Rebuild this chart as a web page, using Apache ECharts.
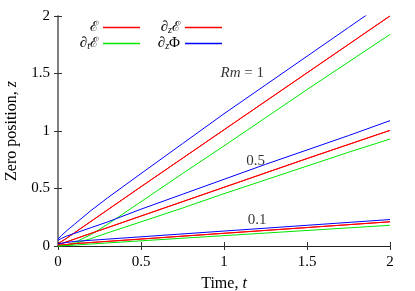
<!DOCTYPE html>
<html>
<head>
<meta charset="utf-8">
<script src="https://cdn.jsdelivr.net/npm/echarts@6/dist/echarts.min.js"></script>
<style>html,body{margin:0;padding:0;background:#fff}#c{width:415px;height:291px}</style>
</head>
<body>
<div id="c"></div>
<script>
// ---- data ----
var xTicks = [0, 0.5, 1, 1.5, 2];
var yTicks = [0, 0.5, 1, 1.5, 2];

// Rm = 1
var tBlue1 = [0, 0.02, 0.05, 0.1, 0.2, 0.3, 0.5, 0.75, 1, 1.25, 1.5, 1.75, 2];
var zBlue1 = [0.06, 0.09, 0.13, 0.19, 0.31, 0.42, 0.63, 0.89, 1.15, 1.4, 1.65, 1.9, 2.15];
var tRed1 = [0, 0.05, 0.1, 0.25, 0.5, 1, 1.5, 2];
var zRed1 = [0.02, 0.065, 0.115, 0.265, 0.515, 1.01, 1.505, 2.0];
var zRedZ1 = [0.02, 0.066, 0.116, 0.266, 0.516, 1.011, 1.506, 2.001];
var tGreen1 = [0, 0.05, 0.1, 0.2, 0.3, 0.5, 0.75, 1, 1.25, 1.5, 1.75, 2];
var zGreen1 = [0, 0.005, 0.03, 0.1, 0.19, 0.385, 0.63, 0.87, 1.115, 1.36, 1.6, 1.84];

// Rm = 0.5
var tBlue05 = [0, 0.02, 0.05, 0.1, 0.2, 0.3, 0.5, 0.75, 1, 1.25, 1.5, 1.75, 2];
var zBlue05 = [0.05, 0.065, 0.085, 0.11, 0.16, 0.21, 0.32, 0.45, 0.58, 0.71, 0.835, 0.96, 1.09];
var tRed05 = [0, 0.1, 0.25, 0.5, 1, 1.5, 2];
var zRed05 = [0.01, 0.06, 0.135, 0.26, 0.51, 0.76, 1.005];
var zRedZ05 = [0.01, 0.061, 0.136, 0.261, 0.511, 0.761, 1.006];
var tGreen05 = [0, 0.05, 0.1, 0.2, 0.3, 0.5, 0.75, 1, 1.25, 1.5, 1.75, 2];
var zGreen05 = [0, 0.005, 0.02, 0.065, 0.115, 0.21, 0.33, 0.455, 0.575, 0.695, 0.815, 0.93];

// Rm = 0.1
var tBlue01 = [0, 0.05, 0.1, 0.25, 0.5, 1, 1.5, 2];
var zBlue01 = [0.02, 0.03, 0.04, 0.055, 0.08, 0.13, 0.18, 0.23];
var tRed01 = [0, 0.1, 0.25, 0.5, 1, 1.5, 2];
var zRed01 = [0.005, 0.02, 0.035, 0.06, 0.11, 0.16, 0.21];
var zRedZ01 = [0.005, 0.021, 0.036, 0.061, 0.111, 0.161, 0.211];
var tGreen01 = [0, 0.1, 0.25, 0.5, 1, 1.5, 2];
var zGreen01 = [0, 0.008, 0.022, 0.045, 0.09, 0.135, 0.18];

// annotation labels
var annoText = ['{i|Rm} = 1', '0.5', '0.1'];
var annoT = [1.11, 1.19, 1.2];
var annoZ = [1.5, 0.74, 0.225];

// legend order (row by row)
var legendOrder = ['Eps', 'dzEps', 'dtEps', 'dzPhi'];

// ---- build ----
function pairs(t, z) { return t.map(function (v, i) { return [v, z[i]]; }); }
var RED = '#ff0000', GREEN = '#00e600', BLUE = '#0000ff';
var seriesColor = { Eps: RED, dzEps: RED, dtEps: GREEN, dzPhi: BLUE };
function line(name, t, z) {
  var color = seriesColor[name];
  return { type: 'line', name: name, data: pairs(t, z), symbol: 'none', clip: true,
    color: color, lineStyle: { color: color, width: 1 }, itemStyle: { color: color }, animation: false };
}
var series = [
  line('Eps', tRed1, zRed1), line('dzEps', tRed1, zRedZ1),
  line('dtEps', tGreen1, zGreen1), line('dzPhi', tBlue1, zBlue1),
  line('Eps', tRed05, zRed05), line('dzEps', tRed05, zRedZ05),
  line('dtEps', tGreen05, zGreen05), line('dzPhi', tBlue05, zBlue05),
  line('Eps', tRed01, zRed01), line('dzEps', tRed01, zRedZ01),
  line('dtEps', tGreen01, zGreen01), line('dzPhi', tBlue01, zBlue01)
];
var FONT = 'Liberation Serif';
series.push({
  type: 'scatter', symbolSize: 0, silent: true, animation: false,
  data: annoT.map(function (t, i) { return { value: [t, annoZ[i]], label: { formatter: annoText[i] } }; }),
  label: { show: true, position: 'inside', color: '#000', fontFamily: FONT, fontSize: 15,
    rich: { i: { fontStyle: 'italic', fontFamily: FONT, fontSize: 15 } } }
});

var legendNames = { Eps: '{e|ℰ}', dtEps: '{m|∂}{s|t}{e|ℰ}', dzEps: '{m|∂}{s|z}{e|ℰ}', dzPhi: '{m|∂}{s|z}{m|Φ}' };

var chart = echarts.init(document.getElementById('c'), null, { renderer: 'canvas' });
chart.setOption({
  animation: false,
  backgroundColor: '#fff',
  grid: { left: 58, right: 25, top: 16, bottom: 45, containLabel: false, outerBoundsMode: 'none' },
  legend: {
    left: 59, top: 20, width: 170, orient: 'horizontal', align: 'right', itemGap: 1, padding: 0,
    itemWidth: 37, itemHeight: 1.3, selectedMode: false,
    data: legendOrder.map(function (n) {
      return { name: n, icon: 'rect', itemStyle: { color: seriesColor[n], borderWidth: 0, opacity: 1 } };
    }),
    formatter: function (n) { return legendNames[n]; },
    textStyle: {
      fontFamily: FONT, fontSize: 15, color: '#000', width: 39, align: 'right', lineHeight: 15,
      rich: {
        m: { fontFamily: FONT, fontSize: 15, color: '#000', lineHeight: 15 },
        e: { fontFamily: 'DejaVu Serif', fontSize: 14, color: '#000', lineHeight: 15 },
        s: { fontFamily: FONT, fontSize: 10, color: '#000', fontStyle: 'italic', lineHeight: 10, verticalAlign: 'bottom', padding: [5, 0, 0, 0] }
      }
    }
  },
  xAxis: [{
    type: 'value', min: 0, max: 2, interval: 0.5,
    name: '{n|Time, }{i|t}', nameLocation: 'middle', nameGap: 30,
    nameTextStyle: { rich: { n: { fontFamily: FONT, fontSize: 16, color: '#000' }, i: { fontFamily: FONT, fontSize: 16, fontStyle: 'italic', color: '#000' } } },
    axisLine: { lineStyle: { color: '#222', width: 1 } },
    axisTick: { inside: true, length: 4, lineStyle: { color: '#333' } },
    axisLabel: { fontFamily: FONT, fontSize: 15, color: '#000', margin: 9,
      formatter: function (v) { return String(xTicks[Math.round(v / 0.5)]); } },
    splitLine: { show: false }
  }, {
    type: 'value', min: 0, max: 2, interval: 0.5, position: 'top',
    axisLine: { show: true, lineStyle: { color: '#222', width: 1 } },
    axisTick: { inside: true, length: 4, lineStyle: { color: '#333' } },
    axisLabel: { show: false }, splitLine: { show: false }
  }],
  yAxis: [{
    type: 'value', min: 0, max: 2, interval: 0.5,
    name: '{n|Zero position, }{i|z}', nameLocation: 'middle', nameGap: 38, nameRotate: 90,
    nameTextStyle: { rich: { n: { fontFamily: FONT, fontSize: 16, color: '#000' }, i: { fontFamily: FONT, fontSize: 16, fontStyle: 'italic', color: '#000' } } },
    axisLine: { show: true, lineStyle: { color: '#777', width: 1.5 } },
    axisTick: { inside: true, length: 4, lineStyle: { color: '#333' } },
    axisLabel: { fontFamily: FONT, fontSize: 15, color: '#000', margin: 8,
      formatter: function (v) { return String(yTicks[Math.round(v / 0.5)]); } },
    splitLine: { show: false }
  }, {
    type: 'value', min: 0, max: 2, interval: 0.5, position: 'right',
    axisLine: { show: true, lineStyle: { color: '#777', width: 1.5 } },
    axisTick: { inside: true, length: 4, lineStyle: { color: '#333' } },
    axisLabel: { show: false }, splitLine: { show: false }
  }],
  series: series
});
</script>
</body>
</html>
